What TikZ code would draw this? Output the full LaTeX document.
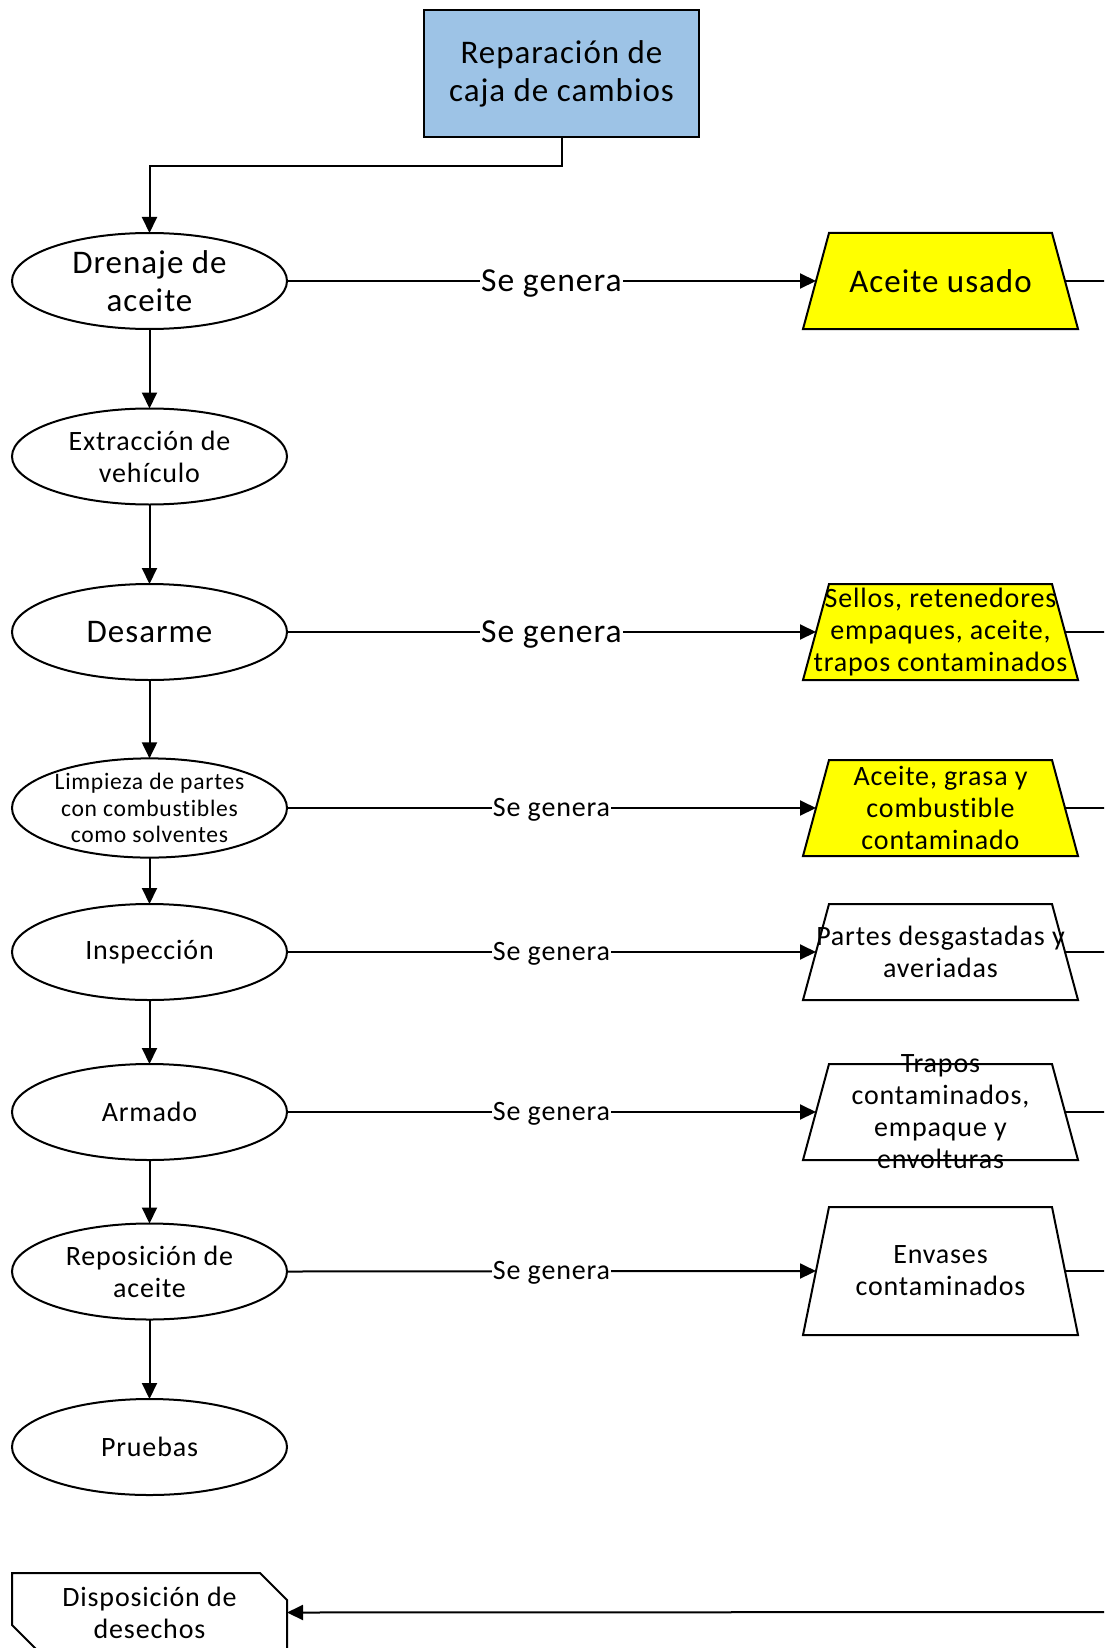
\documentclass[tikz,border=0pt]{standalone}
\usepackage{fontspec}
\setmainfont{Carlito}[LetterSpace=3, Ligatures={NoCommon}]
\usetikzlibrary{arrows.meta,backgrounds,shapes.geometric}
\definecolor{boxblue}{RGB}{157,195,230}
\definecolor{wasteyellow}{RGB}{255,255,0}
\begin{document}
\begin{tikzpicture}[x=0.5pt,y=-0.5pt,
  line width=1pt,
  every node/.style={inner sep=0pt, outer sep=0pt, align=center},
  big/.style={font=\fontsize{16.5}{19}\selectfont},
  med/.style={font=\fontsize{14}{16}\selectfont},
  sml/.style={font=\fontsize{11.8}{13.4}\selectfont},
  lblbig/.style={font=\fontsize{16.8}{19}\selectfont, fill=white, inner xsep=0.5pt, yshift=-1pt},
  lblmed/.style={font=\fontsize{14}{16}\selectfont, fill=white, inner xsep=0.5pt, yshift=-1pt},
  proc/.style={ellipse, draw, fill=white, minimum width=137.5pt, minimum height=48pt},
  wbox/.style={rectangle, minimum width=137.5pt, minimum height=48pt},
  dbox/.style={rectangle, minimum width=137.5pt, minimum height=39.5pt},
  arr/.style={-{Triangle[length=8pt,width=7.5pt]}},
]
\useasboundingbox (0,0) rectangle (1104,1648);
\clip (0,0) rectangle (1104,1648);

% main process
\node[draw, fill=boxblue, minimum width=137.5pt, minimum height=63.5pt, big] (top) at (561.5,73.5) {Reparación de\\caja de cambios};

% process steps
\node[proc, big] (p1) at (149.5,281) {Drenaje de\\aceite};
\node[proc, med] (p2) at (149.5,456.5) {Extracción de\\vehículo};
\node[proc, big] (p3) at (149.5,632) {Desarme};
\node[proc, sml] (p4) at (149.5,808) {Limpieza de partes\\con combustibles\\como solventes};
\node[proc, med] (p5) at (149.5,952) {Inspección};
\node[proc, med] (p6) at (149.5,1112) {Armado};
\node[proc, med] (p7) at (149.5,1271.5) {Reposición de\\aceite};
\node[proc, med] (p8) at (149.5,1447) {Pruebas};

% generated waste: fixed frames with centred text, outlines drawn behind
\node[wbox, label={[big]center:Aceite usado}] (w1) at (940.5,281) {};
\node[wbox, label={[med]center:Sellos, retenedores\\empaques, aceite,\\trapos contaminados}] (w2) at (940.5,632) {};
\node[wbox, label={[med]center:Aceite, grasa y\\combustible\\contaminado}] (w3) at (940.5,808) {};
\node[wbox, label={[med]center:Partes desgastadas y\\averiadas}] (w4) at (940.5,952) {};
\node[wbox, label={[med]center:Trapos\\contaminados,\\empaque y\\envolturas}] (w5) at (940.5,1112) {};
\node[wbox, minimum height=64pt, label={[med]center:Envases\\contaminados}] (w6) at (940.5,1271) {};

% disposal
\node[dbox, label={[med]center:Disposición de\\desechos}] (disp) at (149.5,1612.5) {};

\begin{scope}[on background layer, line width=1pt]
  \foreach \w/\c in {w1/wasteyellow, w2/wasteyellow, w3/wasteyellow, w4/white, w5/white, w6/white}
    \filldraw[fill=\c, line width=1pt] ([xshift=13pt]\w.north west) -- ([xshift=-13pt]\w.north east)
      -- (\w.south east) -- (\w.south west) -- cycle;
  \draw[line width=1pt] (disp.north west) -- ([xshift=-13.5pt]disp.north east) -- ([yshift=-13.5pt]disp.north east)
    -- (disp.south east) -- ([xshift=13.5pt]disp.south west) -- ([yshift=13.5pt]disp.south west) -- cycle;
\end{scope}

% flow of the process
\draw[arr] (top.south) -- ++(0,29) -| (p1.north);
\draw[arr] (p1) -- (p2);
\draw[arr] (p2) -- (p3);
\draw[arr] (p3) -- (p4);
\draw[arr] (p4) -- (p5);
\draw[arr] (p5) -- (p6);
\draw[arr] (p6) -- (p7);
\draw[arr] (p7) -- (p8);

% waste connectors
\draw[arr] (p1.east) -- node[lblbig] {Se genera} ([xshift=6.5pt]w1.west);
\draw[arr] (p3.east) -- node[lblbig] {Se genera} ([xshift=6.5pt]w2.west);
\draw[arr] (p4.east) -- node[lblmed] {Se genera} ([xshift=6.5pt]w3.west);
\draw[arr] (p5.east) -- node[lblmed] {Se genera} ([xshift=6.5pt]w4.west);
\draw[arr] (p6.east) -- node[lblmed] {Se genera} ([xshift=6.5pt]w5.west);
\draw[arr] (p7.east) -- node[lblmed] {Se genera} ([xshift=6.5pt]w6.west);

% lines to the collection route
\coordinate (r1) at (1110,281);
\coordinate (r2) at (1110,632);
\coordinate (r3) at (1110,808);
\coordinate (r4) at (1110,952);
\coordinate (r5) at (1110,1112);
\coordinate (r6) at (1110,1271);
\coordinate (rb) at (1110,1612);
\draw ([xshift=-6.5pt]w1.east) -- (r1);
\draw ([xshift=-6.5pt]w2.east) -- (r2);
\draw ([xshift=-6.5pt]w3.east) -- (r3);
\draw ([xshift=-6.5pt]w4.east) -- (r4);
\draw ([xshift=-6.5pt]w5.east) -- (r5);
\draw ([xshift=-6.5pt]w6.east) -- (r6);
\draw[arr] (rb) -- (disp.east);
\end{tikzpicture}
\end{document}
